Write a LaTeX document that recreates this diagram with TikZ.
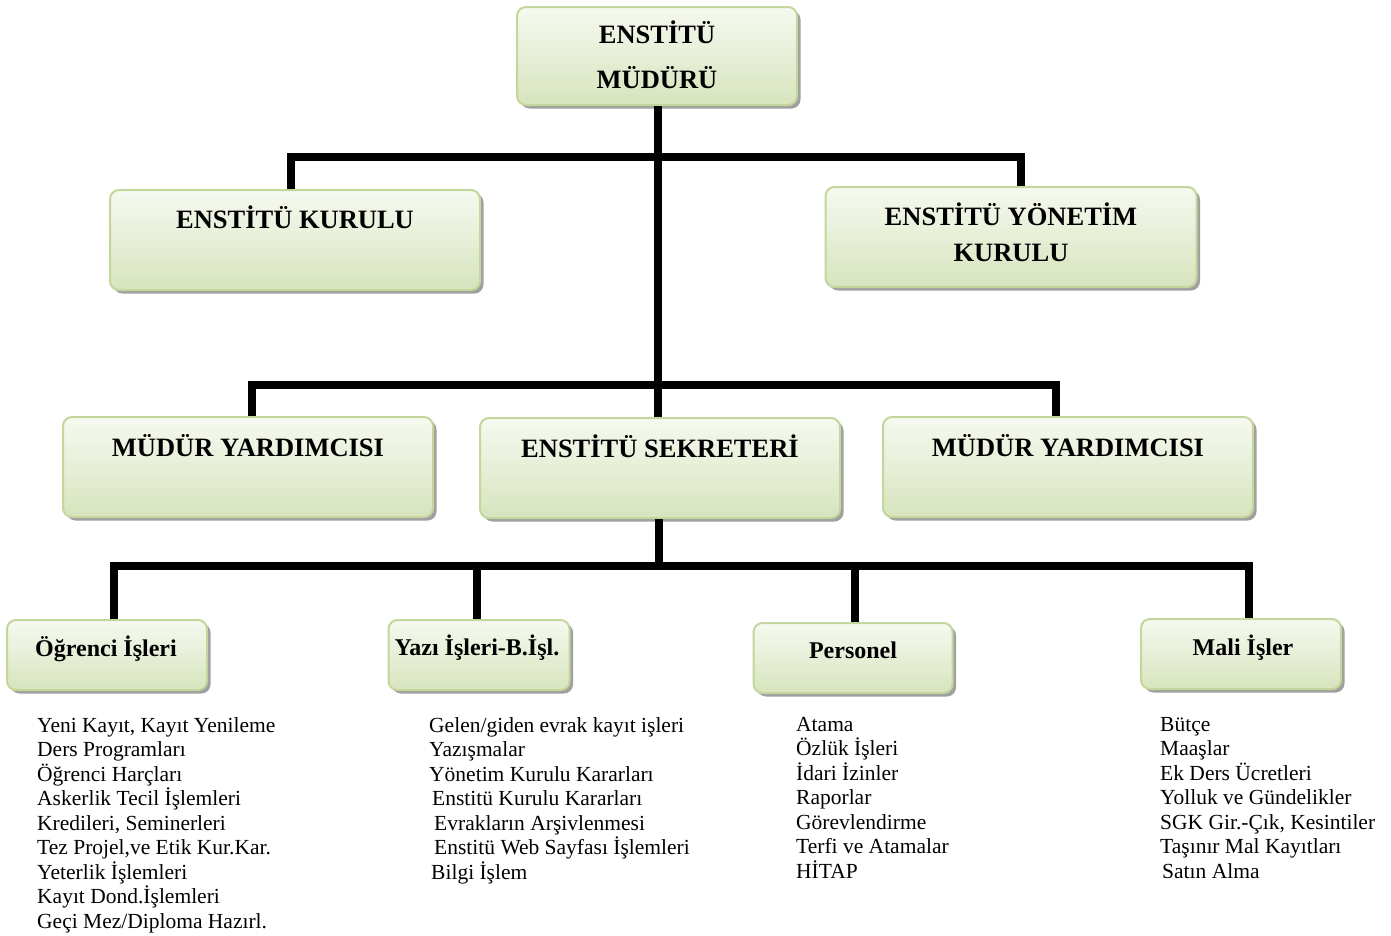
\documentclass[tikz,border=0pt]{standalone}
\usepackage{fontspec}
\setmainfont{Liberation Serif}
\usetikzlibrary{shadows}
\definecolor{bordergreen}{HTML}{C3D69B}
\definecolor{topgreen}{HTML}{F6F9F0}
\definecolor{botgreen}{HTML}{D7E4BD}
\definecolor{shadowgray}{HTML}{A0A0A0}
\tikzset{
  orgbox/.style={draw=bordergreen, line width=2pt, rounded corners=9pt,
    top color=topgreen, bottom color=botgreen, inner sep=0pt,
    drop shadow={shadow xshift=3.5pt, shadow yshift=-3.5pt, fill=shadowgray, opacity=1}},
  head/.style={font=\fontsize{26.5}{31}\selectfont\bfseries, inner sep=0pt, text height=17.5pt, text depth=0pt},
  subhead/.style={font=\fontsize{24}{28}\selectfont\bfseries, inner sep=0pt, text height=16pt, text depth=0pt},
  listtext/.style={font=\fontsize{21.5}{24.5}\selectfont, inner sep=0pt, align=left, anchor=north west},
  conn/.style={line width=8pt, line join=miter, draw=black}
}
\begin{document}
\begin{tikzpicture}[x=1pt,y=-1pt]
\useasboundingbox (0,0) rectangle (1391,935);

% boxes
\node[orgbox, minimum width=280pt, minimum height=98pt] (mudur) at (657,56) {};
\node[orgbox, minimum width=370pt, minimum height=100pt] (kurulu) at (295,240) {};
\node[orgbox, minimum width=371pt, minimum height=100pt] (yonetim) at (1011,237) {};
\node[orgbox, minimum width=370pt, minimum height=100pt] (myl) at (248,467) {};
\node[orgbox, minimum width=360pt, minimum height=100pt] (sekreter) at (660,468) {};
\node[orgbox, minimum width=370pt, minimum height=100pt] (myr) at (1068,467) {};
\node[orgbox, minimum width=200pt, minimum height=70pt] (ogr) at (107,655) {};
\node[orgbox, minimum width=181pt, minimum height=70pt] (yazi) at (479,655) {};
\node[orgbox, minimum width=199pt, minimum height=70pt] (pers) at (853,658) {};
\node[orgbox, minimum width=200pt, minimum height=70pt] (mali) at (1241,654) {};

% headings
\node[head] (t1a) at (657,35) {ENSTİTÜ};
\node[head] (t1b) at (657,80) {MÜDÜRÜ};
\node[head] (t2) at (295,220) {ENSTİTÜ KURULU};
\node[head] (t3a) at (1011,217) {ENSTİTÜ YÖNETİM};
\node[head] (t3b) at (1011,253) {KURULU};
\node[head] (t4) at (248,448) {MÜDÜR YARDIMCISI};
\node[head] (t5) at (660,449) {ENSTİTÜ SEKRETERİ};
\node[head] (t6) at (1068,448) {MÜDÜR YARDIMCISI};
\node[subhead] (t7) at (106,648) {Öğrenci İşleri};
\node[subhead] (t8) at (477,647) {Yazı İşleri-B.İşl.};
\node[subhead] (t9) at (853,650) {Personel};
\node[subhead] (t10) at (1243,647) {Mali İşler};

% lists
\node[listtext] (l1) at (37,717) {Yeni Kayıt, Kayıt Yenileme\\Ders Programları\\Öğrenci Harçları\\Askerlik Tecil İşlemleri\\Kredileri, Seminerleri\\Tez Projel,ve Etik Kur.Kar.\\Yeterlik İşlemleri\\Kayıt Dond.İşlemleri\\Geçi Mez/Diploma Hazırl.};
\node[listtext] (l2) at (429,717) {Gelen/giden evrak kayıt işleri\\Yazışmalar\\Yönetim Kurulu Kararları\\\hspace*{3pt}Enstitü Kurulu Kararları\\\hspace*{5pt}Evrakların Arşivlenmesi\\\hspace*{5pt}Enstitü Web Sayfası İşlemleri\\\hspace*{2pt}Bilgi İşlem};
\node[listtext] (l3) at (796,717) {Atama\\Özlük İşleri\\İdari İzinler\\Raporlar\\Görevlendirme\\Terfi ve Atamalar\\HİTAP};
\node[listtext] (l4) at (1160,717) {Bütçe\\Maaşlar\\Ek Ders Ücretleri\\Yolluk ve Gündelikler\\SGK Gir.-Çık, Kesintiler\\Taşınır Mal Kayıtları\\\hspace*{2pt}Satın Alma};

% connectors
\draw[conn] ([xshift=1pt]mudur.south) -- ([xshift=-2pt]sekreter.north);
\draw[conn] ([xshift=-4pt]kurulu.north) -- ++(0,-32) -| ([xshift=10pt]yonetim.north);
\draw[conn] ([xshift=4pt]myl.north) -- ++(0,-31) -| ([xshift=-12pt]myr.north);
\draw[conn] ([xshift=-1pt]sekreter.south) -- ++(0,51);
\draw[conn] ([xshift=7pt]ogr.north) -- ++(0,-53) -| ([xshift=8pt]mali.north);
\draw[conn] ([xshift=-2pt]yazi.north) -- ++(0,-53);
\draw[conn] ([xshift=2pt]pers.north) -- ++(0,-56);
\end{tikzpicture}
\end{document}
